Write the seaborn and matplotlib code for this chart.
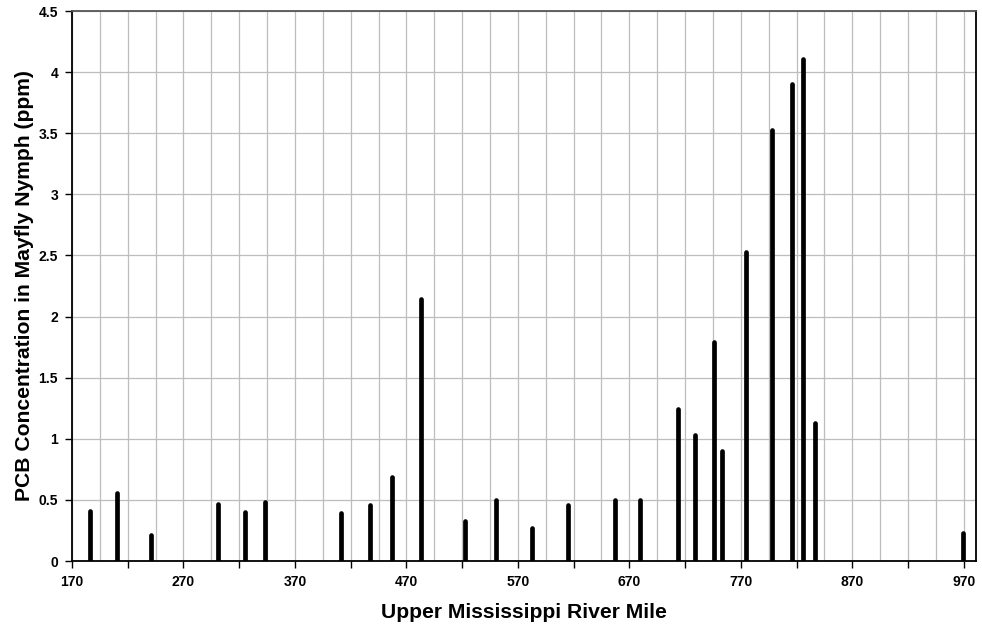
import numpy as np
import pandas as pd
import seaborn as sns
import matplotlib.pyplot as plt
from matplotlib.ticker import FixedLocator, FuncFormatter

# river mile of each sampling site and PCB in mayfly nymphs (ppm)
river_mile = [186, 210, 241, 301, 325, 343, 411, 437, 457, 483, 523, 550,
              583, 615, 657, 680, 714, 729, 746, 753, 775, 798, 816, 826,
              837, 969]
pcb_ppm = [0.41, 0.56, 0.21, 0.47, 0.40, 0.48, 0.39, 0.46, 0.69, 2.14, 0.33,
           0.50, 0.27, 0.46, 0.50, 0.50, 1.24, 1.03, 1.79, 0.90, 2.53, 3.53,
           3.90, 4.11, 1.13, 0.23]

x_labels = [170, 270, 370, 470, 570, 670, 770, 870, 970]

# each site is a vertical stick from 0 up to its value
sticks = pd.DataFrame({
    "site": np.repeat(np.arange(len(river_mile)), 2),
    "mile": np.repeat(river_mile, 2),
    "ppm": np.ravel([[0, v] for v in pcb_ppm]),
})

sns.set_style("whitegrid")
plt.rcParams["font.family"] = ["Liberation Sans", "DejaVu Sans"]
plt.rcParams["text.color"] = "black"
plt.rcParams["axes.labelcolor"] = "black"
plt.rcParams["xtick.color"] = "black"
plt.rcParams["ytick.color"] = "black"

fig = plt.figure(figsize=(9.82, 6.29), dpi=100)
ax = fig.add_axes([0.0733, 0.108, 0.9206, 0.8745])

sns.lineplot(data=sticks, x="mile", y="ppm", units="site", estimator=None,
             color="black", linewidth=3.4, solid_capstyle="round", ax=ax,
             legend=False)

ax.set_xlim(170, 981)
ax.set_ylim(0, 4.5)

ax.xaxis.set_major_locator(FixedLocator(np.arange(170, 975, 50)))
ax.xaxis.set_minor_locator(FixedLocator(np.arange(170, 981, 25)))
ax.yaxis.set_major_locator(FixedLocator(np.arange(0, 4.51, 0.5)))
ax.xaxis.set_major_formatter(FuncFormatter(
    lambda v, p: f"{int(round(v))}" if int(round(v)) in x_labels else ""))
ax.yaxis.set_major_formatter(FuncFormatter(lambda v, p: f"{v:g}"))

ax.grid(which="both", color="#bdbdbd", linewidth=0.9)
ax.set_axisbelow(True)
ax.tick_params(axis="both", which="major", direction="out", length=5,
               width=1, color="black", labelcolor="black", labelsize=10, pad=5)
ax.tick_params(axis="both", which="minor", length=0)
ax.tick_params(left=True, bottom=True)
for lab in ax.get_xticklabels() + ax.get_yticklabels():
    lab.set_fontweight("bold")

for side in ["left", "bottom", "right"]:
    ax.spines[side].set_color("black")
    ax.spines[side].set_linewidth(1.3)
ax.spines["top"].set_color("#555555")
ax.spines["top"].set_linewidth(1.3)

ax.set_xlabel("Upper Mississippi River Mile", fontsize=15.2, fontweight="bold",
              labelpad=10, color="black")
ax.set_ylabel("PCB Concentration in Mayfly Nymph (ppm)", fontsize=15.2,
              fontweight="bold", labelpad=3, color="black")

plt.savefig("out.png", dpi=100)
